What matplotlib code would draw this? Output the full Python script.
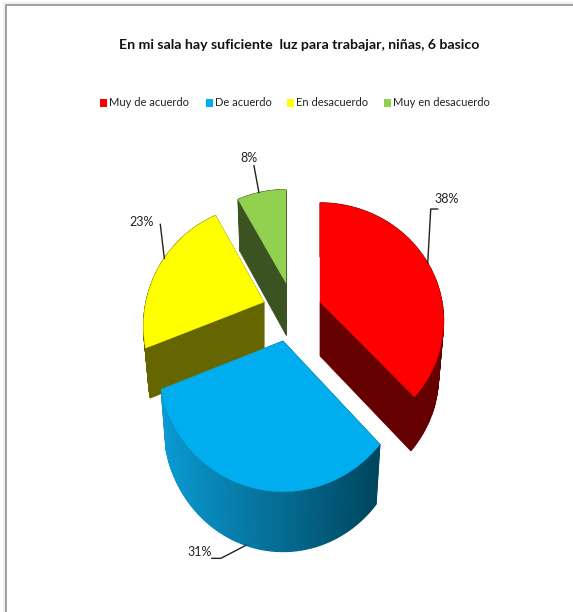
import matplotlib
matplotlib.use("Agg")
import matplotlib.pyplot as plt
from matplotlib.patches import Polygon, Rectangle
from matplotlib.colors import to_rgb
import numpy as np

title = "En mi sala hay suficiente  luz para trabajar, niñas, 6 basico"
categories = ["Muy de acuerdo", "De acuerdo", "En desacuerdo", "Muy en desacuerdo"]
values = [38, 31, 23, 8]
top_colors = ["#ff0000", "#00aeef", "#ffff00", "#92d050"]
side_colors = ["#660000", "#00465f", "#666600", "#3a5320"]

# the 3D pie is faked: each slice has its own apex and perspective
apex = [(320, 302), (283, 341), (264, 302), (286, 283)]
radius_x = [122, 122, 118, 117]
radius_y = [115, 122, 116, 112]
persp = [0.16, 0.19, 0.2, 0.2]
depth = [54, 60, 50, 52]
shrink = 0.96

# leader lines: angle on the rim (degrees clockwise from top), then elbow offsets
leader_angle = [69, 195, 294, 344]
leader_elbow = [[(3, -54), (10, -54)], [(-25, 13), (-34, 13)], [(-4, -34)], [(-5, -27)]]
label_pos = [(447, 199), (200, 552), (142, 222), (249, 158)]

legend_swatch = [(100, 103), (206, 103), (287, 103), (384, 103)]

fig = plt.figure(figsize=(5.73, 6.12), dpi=100)
ax = fig.add_axes([0, 0, 1, 1])
ax.set_xlim(0, 573)
ax.set_ylim(612, 0)
ax.axis("off")

font = ["Lato", "Liberation Sans", "DejaVu Sans"]


def rim(i, deg):
    t = np.radians(deg)
    u, v = np.sin(t), -np.cos(t)
    s = 1 / (1 - persp[i] * v)
    return apex[i][0] + radius_x[i] * u * s, apex[i][1] + radius_y[i] * v * s


# frame of the pasted picture
ax.plot([3.5, 3.5, 573], [612, 3, 3], color="#efefef", lw=1.5)
ax.plot([5.5, 5.5, 573], [612, 5, 5], color="#8f8f8f", lw=1.2)

edges = np.cumsum([0] + values) * 3.6
for i in [3, 2, 0, 1]:
    angles = np.linspace(edges[i], edges[i + 1], 90)
    xs, ys = rim(i, angles)
    ax0, ay0 = apex[i]
    d = depth[i]
    xb = ax0 + (xs - ax0) * shrink
    yb = ys + d

    # walls: cut faces first, then the outer rim
    for j in [0, -1]:
        ax.add_patch(Polygon([(ax0, ay0), (xs[j], ys[j]), (xb[j], yb[j]), (ax0, ay0 + d)],
                             fc=side_colors[i], ec=side_colors[i], lw=0.5, zorder=2 + i * 0.1))
    for j in range(len(angles) - 1):
        col = side_colors[i]
        if i == 1:
            # blue slice wall fades from light on the left to dark on the right
            f = (xs[j] - xs[-1]) / (xs[0] - xs[-1])
            col = tuple(a + (b - a) * f for a, b in zip(to_rgb("#0a9ad2"), to_rgb(side_colors[i])))
        ax.add_patch(Polygon([(xs[j], ys[j]), (xs[j + 1], ys[j + 1]), (xb[j + 1], yb[j + 1]), (xb[j], yb[j])],
                             fc=col, ec=col, lw=0.8, zorder=2 + i * 0.1))
    ax.add_patch(Polygon(np.vstack([[apex[i]], np.column_stack([xs, ys])]),
                         fc=top_colors[i], ec=top_colors[i], lw=0.3, zorder=3 + i * 0.1))

    # leader and label
    lx, ly = rim(i, leader_angle[i])
    if i == 1:
        lx = ax0 + (lx - ax0) * shrink
        ly += d
    px = [lx] + [lx + e[0] for e in leader_elbow[i]]
    py = [ly] + [ly + e[1] for e in leader_elbow[i]]
    ax.plot(px, py, color="#222222", lw=1, zorder=5)
    ax.text(label_pos[i][0], label_pos[i][1], "%d%%" % values[i], ha="center", va="center",
            fontsize=9, family=font, color="#222222", zorder=6)

ax.text(299, 45, title, ha="center", va="center", fontsize=10.2, family=font,
        fontweight="bold", color="#111111")

for name, col, (sx, sy) in zip(categories, top_colors, legend_swatch):
    ax.add_patch(Rectangle((sx, sy - 4), 7, 8, fc=col, ec="none"))
    ax.text(sx + 9, sy, name, ha="left", va="center", fontsize=8, family=font, color="#222222")

fig.savefig("out.png", dpi=100)
